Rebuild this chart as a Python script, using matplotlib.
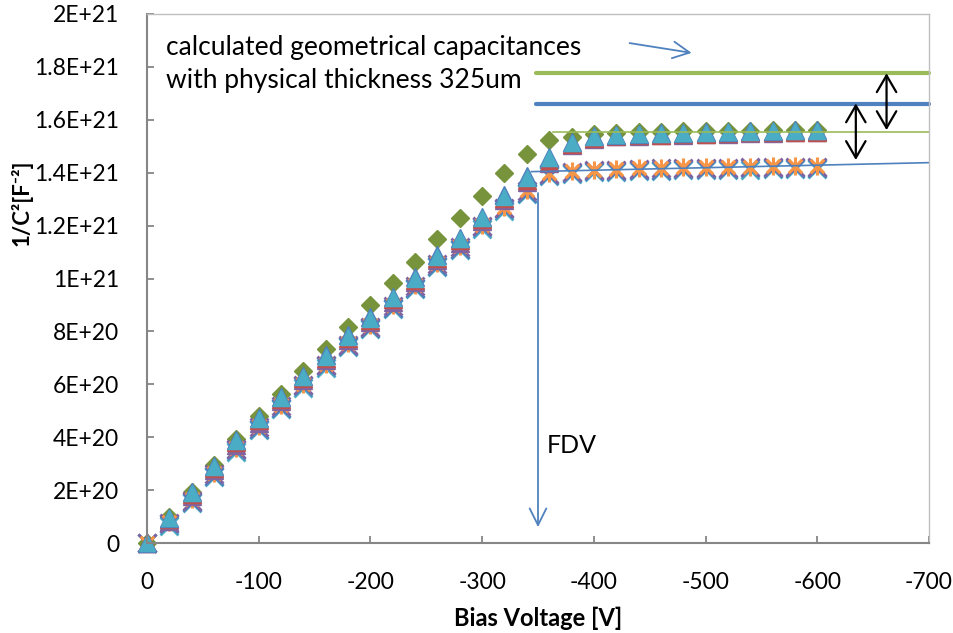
import matplotlib
matplotlib.use('Agg')
import matplotlib.pyplot as plt
from matplotlib.path import Path

plt.rcParams['font.family'] = ['Lato', 'DejaVu Sans']

# ---------------- data (y in units of 1E+21 F^-2) ----------------
voltage = [0, -20, -40, -60, -80, -100, -120, -140, -160, -180, -200,
           -220, -240, -260, -280, -300, -320, -340, -360, -380, -400,
           -420, -440, -460, -480, -500, -520, -540, -560, -580, -600]

diamond_green = [0, 0.097, 0.192, 0.295, 0.392, 0.480, 0.565, 0.652, 0.735, 0.815, 0.900,
                 0.982, 1.062, 1.148, 1.228, 1.312, 1.397, 1.472, 1.522, 1.535, 1.545,
                 1.550, 1.552, 1.554, 1.556, 1.557, 1.558, 1.559, 1.560, 1.561, 1.562]
tri_red = [0, 0.090, 0.184, 0.284, 0.381, 0.464, 0.544, 0.624, 0.700, 0.776, 0.844,
           0.921, 0.996, 1.079, 1.144, 1.225, 1.305, 1.372, 1.440, 1.507, 1.531,
           1.539, 1.542, 1.544, 1.546, 1.548, 1.550, 1.552, 1.553, 1.555, 1.555]
tri_purple = [0, 0.082, 0.176, 0.276, 0.372, 0.455, 0.535, 0.615, 0.692, 0.768, 0.836,
              0.913, 0.988, 1.071, 1.136, 1.217, 1.297, 1.365, 1.435, 1.503, 1.528,
              1.537, 1.540, 1.542, 1.544, 1.546, 1.548, 1.550, 1.551, 1.553, 1.553]
tri_blue = [0, 0.096, 0.192, 0.292, 0.390, 0.473, 0.553, 0.633, 0.709, 0.785, 0.853,
            0.930, 1.005, 1.088, 1.153, 1.234, 1.315, 1.386, 1.460, 1.515, 1.537,
            1.544, 1.547, 1.549, 1.551, 1.553, 1.555, 1.557, 1.558, 1.560, 1.560]
tri_cyan = [0, 0.093, 0.188, 0.288, 0.385, 0.468, 0.548, 0.628, 0.704, 0.780, 0.848,
            0.925, 1.000, 1.083, 1.148, 1.229, 1.310, 1.380, 1.455, 1.512, 1.535,
            1.542, 1.545, 1.547, 1.549, 1.551, 1.553, 1.555, 1.556, 1.558, 1.558]
x_blue = [0, 0.070, 0.155, 0.255, 0.350, 0.432, 0.512, 0.592, 0.668, 0.745, 0.813,
          0.890, 0.965, 1.048, 1.113, 1.193, 1.262, 1.325, 1.390, 1.400, 1.405,
          1.408, 1.410, 1.412, 1.413, 1.414, 1.415, 1.416, 1.417, 1.418, 1.418]
x_purple = [0, 0.075, 0.160, 0.260, 0.355, 0.437, 0.517, 0.597, 0.673, 0.750, 0.818,
            0.895, 0.970, 1.053, 1.118, 1.198, 1.267, 1.330, 1.394, 1.404, 1.409,
            1.412, 1.414, 1.416, 1.417, 1.418, 1.419, 1.420, 1.421, 1.422, 1.422]
star_orange = [0, 0.080, 0.165, 0.265, 0.360, 0.442, 0.522, 0.602, 0.678, 0.755, 0.823,
               0.900, 0.975, 1.058, 1.123, 1.203, 1.272, 1.335, 1.397, 1.407, 1.412,
               1.415, 1.417, 1.419, 1.420, 1.421, 1.422, 1.423, 1.424, 1.425, 1.425]
x_teal = [0, 0.066, 0.150, 0.250, 0.345, 0.427, 0.507, 0.587, 0.663, 0.740, 0.808,
          0.885, 0.960, 1.043, 1.108, 1.188, 1.257, 1.320, 1.386, 1.396, 1.401,
          1.404, 1.406, 1.408, 1.409, 1.410, 1.411, 1.412, 1.413, 1.414, 1.414]

# reference lines / annotations (values in same units)
geo_green_level = 1.776
geo_blue_level = 1.659
geo_start_v = -348
fit_green_level = 1.553
fit_green_start_v = -363
fit_blue_v = [-344, -700]
fit_blue_y = [1.404, 1.438]
fdv_v = -350
fdv_top, fdv_tip = 1.323, 0.06

x_ticks = [0, -100, -200, -300, -400, -500, -600, -700]
x_tick_labels = ['0', '-100', '-200', '-300', '-400', '-500', '-600', '-700']
y_ticks = [0, 0.2, 0.4, 0.6, 0.8, 1.0, 1.2, 1.4, 1.6, 1.8, 2.0]
y_tick_labels = ['0', '2E+20', '4E+20', '6E+20', '8E+20', '1E+21',
                 '1.2E+21', '1.4E+21', '1.6E+21', '1.8E+21', '2E+21']

# ---------------- figure ----------------
fig = plt.figure(figsize=(9.54, 6.33), dpi=100)
ax = fig.add_axes([147/954, 1-543/633, 782/954, 529/633])

star = Path([(0, -1), (0, 1), (-0.75, -0.75), (0.75, 0.75), (-0.75, 0.75), (0.75, -0.75)],
            [Path.MOVETO, Path.LINETO] * 3)

kw = dict(linestyle='none', clip_on=False)
ax.plot(voltage, diamond_green, marker='D', ms=9, color='#77933C', mec='#77933C', **kw)
ax.plot(voltage, x_teal, marker='x', ms=13, mew=2, color='#4BACC6', **kw)
ax.plot(voltage, x_blue, marker='x', ms=13, mew=2, color='#4F81BD', **kw)
ax.plot(voltage, x_purple, marker='x', ms=13, mew=2, color='#8064A2', **kw)
ax.plot(voltage, star_orange, marker=star, ms=13, mew=2.2, color='#F79646', **kw)
ax.plot(voltage, tri_purple, marker='^', ms=13, color='#8064A2', mec='#8064A2', **kw)
ax.plot(voltage, tri_red, marker='^', ms=13, color='#C0504D', mec='#C0504D', **kw)
ax.plot(voltage, tri_blue, marker='^', ms=13, color='#4F81BD', mec='#4F81BD', **kw)
ax.plot(voltage, tri_cyan, marker='^', ms=11.5, color='#4BACC6', mec='#4BACC6', **kw)

# geometrical capacitance lines
ax.plot([geo_start_v, -700], [geo_green_level, geo_green_level], color='#9BBB59',
        lw=3, solid_capstyle='round', clip_on=False)
ax.plot([geo_start_v, -700], [geo_blue_level, geo_blue_level], color='#4F81BD',
        lw=3, solid_capstyle='round', clip_on=False)
# fitted plateau lines
ax.plot([fit_green_start_v, -700], [fit_green_level, fit_green_level], color='#9BBB59',
        lw=1.2, clip_on=False)
ax.plot(fit_blue_v, fit_blue_y, color='#4F81BD', lw=1.2, clip_on=False)

# double arrows
for xv, y0, y1 in [(-662, 1.776, 1.561), (-634.5, 1.662, 1.448)]:
    ax.annotate('', xy=(xv, y1), xytext=(xv, y0),
                arrowprops=dict(arrowstyle='<->,head_length=0.6,head_width=0.35',
                                color='black', lw=1.6, mutation_scale=20,
                                shrinkA=0, shrinkB=0))

# FDV arrow
ax.annotate('', xy=(fdv_v, fdv_tip), xytext=(fdv_v, fdv_top),
            arrowprops=dict(arrowstyle='->,head_length=0.6,head_width=0.3',
                            color='#4F81BD', lw=1.3, mutation_scale=20,
                            shrinkA=0, shrinkB=0))
ax.text(-358, 0.37, 'FDV', fontsize=18, va='center', ha='left')

# annotation text and arrow
ax.text(-17, 1.875, 'calculated geometrical capacitances', fontsize=19,
        va='center', ha='left')
ax.text(-17, 1.750, 'with physical thickness 325um', fontsize=19,
        va='center', ha='left')
ax.annotate('', xy=(-487.5, 1.853), xytext=(-432, 1.890),
            arrowprops=dict(arrowstyle='->,head_length=0.6,head_width=0.3',
                            color='#4F81BD', lw=1.3, mutation_scale=20,
                            shrinkA=0, shrinkB=0))

# labels cut by the figure edge (as in the original)
ax.text(-719.7, 1.553, 'Fit', fontsize=18, va='center', ha='left', clip_on=False)
ax.text(-719.7, 1.430, 'Fit', fontsize=18, va='center', ha='left', clip_on=False)

# axes
ax.set_xlim(0, -700)
ax.set_ylim(0, 2.0)
ax.set_xticks(x_ticks)
ax.set_xticklabels(x_tick_labels)
ax.set_yticks(y_ticks)
ax.set_yticklabels(y_tick_labels)
ax.tick_params(axis='both', direction='in', length=5, width=1.3, color='#868686',
               labelsize=16.5)
ax.tick_params(axis='y', pad=20)
ax.tick_params(axis='x', pad=21)
for s in ['left', 'bottom']:
    ax.spines[s].set_color('#868686')
    ax.spines[s].set_linewidth(1.5)
for s in ['top', 'right']:
    ax.spines[s].set_color('#BFBFBF')
    ax.spines[s].set_linewidth(1.0)

ax.set_xlabel('Bias Voltage [V]', fontsize=17, fontweight='bold', va='center')
ax.xaxis.set_label_coords(0.5, -(618 - 543) / 529)
ax.set_ylabel('1/C²[F⁻²]', fontsize=16, fontweight='bold', va='center')
ax.yaxis.set_label_coords(-(147 - 22) / 782, (543 - 203) / 529)

fig.savefig('out.png', dpi=100)
